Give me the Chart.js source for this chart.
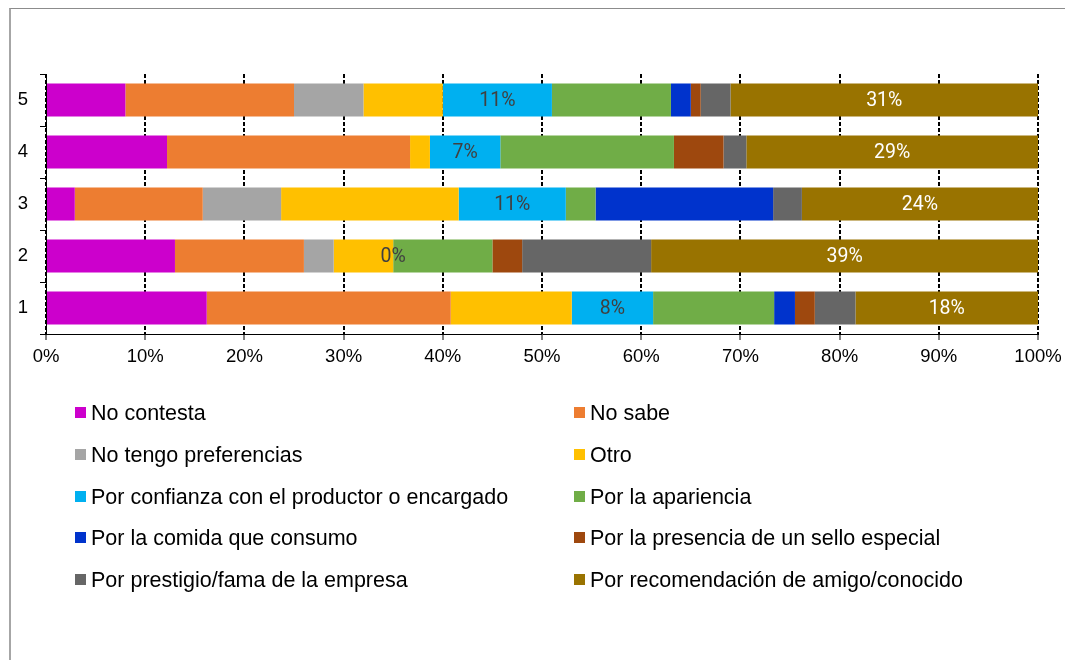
<!DOCTYPE html>
<html>
<head>
<meta charset="utf-8">
<script src="https://cdn.jsdelivr.net/npm/chart.js@4.4.1/dist/chart.umd.min.js"></script>
<style>
	html, body { margin: 0; padding: 0; background: #fff; }
	#marco { position: absolute; left: 0; top: 0; width: 1065px; height: 660px; overflow: hidden; }
	#borde { position: absolute; left: 9px; top: 8px; width: 1100px; height: 700px; border-left: 2px solid #a6a6a6; border-top: 1px solid #8c8c8c; }
	#grafico { position: absolute; left: 0; top: 0; }
	.item { position: absolute; height: 24px; line-height: 24px; white-space: nowrap; font-family: "Liberation Sans", Arial, sans-serif; font-size: 21.5px; color: #000; }
	.item .caja { position: absolute; left: 0; top: 6px; width: 11px; height: 11px; }
	.item .txt { position: absolute; left: 16px; top: 0; }
</style>
</head>
<body>
<div id="marco">
	<div id="borde"></div>
	<canvas id="grafico" width="1065" height="660"></canvas>
	<div id="leyenda"></div>
</div>
<script>
// categorias de arriba hacia abajo
const categorias = ['5', '4', '3', '2', '1'];

const noContesta      = [8, 12.2, 2.9, 13, 16.2];
const noSabe          = [17, 24.5, 12.9, 13, 24.6];
const noPreferencias  = [7, 0, 7.9, 3, 0];
const otro            = [8, 2.0, 17.9, 6, 12.2];
const porConfianza    = [11, 7.1, 10.8, 0, 8.2];
const porApariencia   = [12, 17.5, 3.0, 10, 12.2];
const porComida       = [2, 0, 17.9, 0, 2.1];
const porSello        = [1, 5.0, 0, 3, 2.0];
const porPrestigio    = [3, 2.3, 2.9, 13, 4.1];
const porRecomendacion = [31, 29.4, 23.8, 39, 18.4];

const nombres = [
	'No contesta', 'No sabe', 'No tengo preferencias', 'Otro',
	'Por confianza con el productor o encargado', 'Por la apariencia',
	'Por la comida que consumo', 'Por la presencia de un sello especial',
	'Por prestigio/fama de la empresa', 'Por recomendación de amigo/conocido'
];
const valores = [noContesta, noSabe, noPreferencias, otro, porConfianza,
	porApariencia, porComida, porSello, porPrestigio, porRecomendacion];
const colores = ['#CC00CC', '#ED7D31', '#A5A5A5', '#FFC000', '#00B0F0',
	'#70AD47', '#0033CC', '#9E480E', '#666666', '#997300'];

// solo estas series llevan etiqueta
const seriesConEtiqueta = [4, 9];
const colorEtiqueta = { 4: '#404040', 9: '#ffffff' };

const fuenteEje = { family: '"Liberation Sans", Arial, sans-serif', size: 18.5 };

const etiquetasPlugin = {
	id: 'etiquetas',
	afterDatasetsDraw(chart) {
		const ctx = chart.ctx;
		ctx.save();
		ctx.font = '19.5px Roboto, "Liberation Sans", sans-serif';
		ctx.textAlign = 'center';
		ctx.textBaseline = 'middle';
		seriesConEtiqueta.forEach(function (idx) {
			const meta = chart.getDatasetMeta(idx);
			const datos = chart.data.datasets[idx].data;
			ctx.fillStyle = colorEtiqueta[idx];
			meta.data.forEach(function (barra, i) {
				const x = (barra.x + barra.base) / 2;
				ctx.fillText(Math.round(datos[i]) + '%', x, barra.y + 1.5);
			});
		});
		ctx.restore();
	}
};

const datasets = nombres.map(function (nombre, i) {
	return {
		label: nombre,
		data: valores[i],
		backgroundColor: colores[i],
		borderWidth: 0,
		categoryPercentage: 1,
		barPercentage: 0.635
	};
});

const ctx = document.getElementById('grafico').getContext('2d');
const grafico = new Chart(ctx, {
	type: 'bar',
	data: { labels: categorias, datasets: datasets },
	plugins: [etiquetasPlugin],
	options: {
		indexAxis: 'y',
		responsive: false,
		animation: false,
		layout: { padding: { top: 74, right: 27, bottom: 296, left: 0 } },
		plugins: {
			legend: { display: false },
			tooltip: { enabled: false }
		},
		scales: {
			x: {
				stacked: true,
				min: 0,
				max: 100,
				ticks: {
					stepSize: 10,
					maxRotation: 0,
					autoSkip: false,
					color: '#000',
					font: fuenteEje,
					padding: 6,
					callback: function (v) { return v + '%'; }
				},
				grid: {
					color: '#000',
					lineWidth: 2,
					drawTicks: true,
					tickLength: 6,
					tickColor: '#000',
					tickWidth: 1
				},
				border: { display: true, color: '#000', width: 1, dash: [4, 2] },
				afterFit: function (s) {
					s.height = 30;
					s.paddingLeft = 0;
					s.paddingRight = 0;
				}
			},
			y: {
				stacked: true,
				ticks: { color: '#000', font: fuenteEje, padding: 12 },
				grid: {
					offset: true,
					drawOnChartArea: false,
					drawTicks: true,
					tickLength: 6,
					tickColor: '#000',
					tickWidth: 1
				},
				border: { display: true, color: '#000', width: 1 },
				afterFit: function (s) { s.width = 46; }
			}
		}
	}
});

// leyenda en dos columnas
const columnasX = [75, 574];
const leyenda = document.getElementById('leyenda');
grafico.data.datasets.forEach(function (ds, i) {
	const fila = Math.floor(i / 2);
	const col = i % 2;
	const item = document.createElement('div');
	item.className = 'item';
	item.style.left = columnasX[col] + 'px';
	item.style.top = (401 + fila * 41.8) + 'px';
	item.innerHTML = '<span class="caja" style="background:' + ds.backgroundColor + '"></span><span class="txt"></span>';
	item.querySelector('.txt').textContent = ds.label;
	leyenda.appendChild(item);
});
</script>
</body>
</html>
